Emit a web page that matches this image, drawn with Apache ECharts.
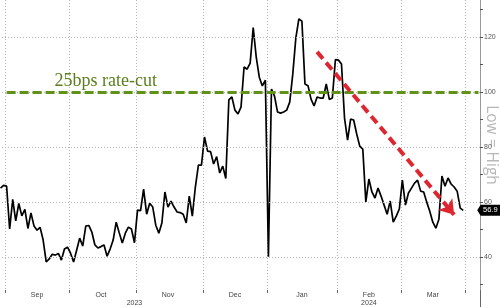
<!DOCTYPE html>
<html><head><meta charset="utf-8">
<script src="https://cdn.jsdelivr.net/npm/echarts@6/dist/echarts.min.js"></script>
<style>html,body{margin:0;padding:0;background:#fff}#c{width:500px;height:307px}</style>
</head><body><div id="c"></div>
<script>
// ---- data ----
const startDate = '2023-08-30';
const endDate = '2024-04-05';
const values = [
65.0,66.0,65.7,50.1,60.9,53.1,59.4,54.9,57.3,50.3,
56.0,51.2,49.7,50.7,46.1,38.1,39.2,40.9,40.6,41.2,
38.8,42.8,43.5,41.3,38.1,42.4,46.8,43.9,51.2,51.4,
49.0,44.3,43.2,43.7,44.3,40.2,42.8,46.1,52.6,48.7,
45.0,48.6,50.8,50.1,45.1,57.0,56.8,64.6,55.5,59.5,
58.1,51.5,48.6,52.3,63.6,58.1,60.3,58.1,56.3,56.1,
55.5,52.3,62.1,54.8,65.4,73.4,73.4,83.6,78.5,78.3,
73.8,76.5,70.5,73.0,68.5,97.1,98.2,93.4,92.0,94.5,
109.1,108.3,110.5,123.5,112.7,105.4,102.2,104.3,40.0,101.1,
98.5,92.7,92.3,92.7,93.4,96.3,106.5,119.6,126.6,125.8,
102.9,102.3,97.4,94.9,98.2,97.8,97.8,102.9,97.3,97.8,
111.8,111.6,110.2,90.5,82.5,90.1,89.8,84.7,80.3,79.2,
60.0,68.3,63.6,61.4,65.0,62.1,58.8,55.5,60.3,52.6,
54.8,57.4,67.9,58.8,63.2,65.0,66.8,67.9,63.9,63.6,
59.9,56.6,52.6,50.4,53.7,69.4,65.7,68.7,66.5,65.4,
63.9,57.7,56.9
];
const rateCutLevel = 100;
const rateCutLabel = '25bps rate-cut';
const trendStart = ['2024-01-23', 114.6];
const trendEnd = ['2024-03-26', 55.3];
const yLabelValues = [40, 60, 80, 100, 120];
const yTickValues = [30, 40, 50, 60, 70, 80, 90, 100, 110, 120, 130];
const yMin = 27.9, yMax = 133.5;
const monthNames = ['Jan','Feb','Mar','Apr','May','Jun','Jul','Aug','Sep','Oct','Nov','Dec'];
const yearLabelDates = ['2023-10-31', '2024-02-15'];
const yAxisName = 'Low = High';

// ---- categories (weekdays) ----
function buildWeekdays(a, b) {
  const out = []; let d = new Date(a + 'T00:00:00Z'); const e = new Date(b + 'T00:00:00Z');
  while (d <= e) { const w = d.getUTCDay(); if (w !== 0 && w !== 6) out.push(d.toISOString().slice(0, 10)); d = new Date(d.getTime() + 86400000); }
  return out;
}
const cats = buildWeekdays(startDate, endDate);
const monthOf = s => s.slice(0, 7);
const isMonthStart = i => i > 0 && monthOf(cats[i]) !== monthOf(cats[i - 1]);
const groups = [];
cats.forEach((c, i) => { const m = monthOf(c); if (!groups.length || groups[groups.length - 1].m !== m) groups.push({ m, a: i, b: i }); else groups[groups.length - 1].b = i; });
const monthMid = new Set(groups.slice(1, -1).map(g => Math.floor((g.a + g.b) / 2)));
const yearStart = new Set(cats.map((c, i) => (i > 0 && c.slice(0, 4) !== cats[i - 1].slice(0, 4)) ? i : -1).filter(i => i >= 0));
const yearLabelIdx = new Set(yearLabelDates.map(d => cats.indexOf(d)));
const lastIdx = values.length - 1;

const gridStyle = { type: [1, 2], color: '#b5b5b5', width: 1 };
const fontFam = 'Liberation Sans, Arial, sans-serif';

const chart = echarts.init(document.getElementById('c'), null, { renderer: 'canvas' });
chart.setOption({
  animation: false,
  backgroundColor: '#fff',
  grid: [
    { left: -1, right: 20, top: 0, bottom: 17, outerBoundsMode: 'none' },
    { left: -1, right: 20, top: 0, bottom: 17, outerBoundsMode: 'none' }
  ],
  xAxis: [
    {
      type: 'category', data: cats, boundaryGap: true, gridIndex: 0,
      axisLine: { show: false },
      axisTick: { show: true, interval: (i) => isMonthStart(i), length: 3, lineStyle: { color: '#666' } },
      axisLabel: { interval: (i) => monthMid.has(i), formatter: v => monthNames[parseInt(v.slice(5, 7), 10) - 1], fontSize: 7, color: '#444', margin: 2, fontFamily: fontFam },
      splitLine: { show: true, interval: (i) => isMonthStart(i), lineStyle: gridStyle }
    },
    {
      type: 'category', data: cats, boundaryGap: true, gridIndex: 1, position: 'bottom',
      axisLine: { show: false },
      axisTick: { show: true, interval: (i) => yearStart.has(i), length: 17, lineStyle: { color: '#666' } },
      axisLabel: { interval: (i) => yearLabelIdx.has(i), formatter: v => v.slice(0, 4), fontSize: 7, color: '#444', margin: 10, fontFamily: fontFam },
      splitLine: { show: false }
    }
  ],
  yAxis: [
    {
      type: 'value', position: 'right', min: yMin, max: yMax, gridIndex: 0,
      axisLine: { show: true, lineStyle: { color: '#999', width: 1 } },
      axisTick: { show: true, customValues: yTickValues, length: 3, lineStyle: { color: '#555' } },
      axisLabel: { customValues: yLabelValues, fontSize: 7, color: '#555', margin: 4, fontFamily: fontFam },
      splitLine: { show: false },
      name: yAxisName, nameLocation: 'middle', nameRotate: -90, nameGap: 3, nameMoveOverlap: false,
      nameTextStyle: { color: '#b8b8b8', fontSize: 15.5, fontFamily: 'Open Sans, sans-serif' }
    },
    { type: 'value', gridIndex: 1, show: false, min: yMin, max: yMax }
  ],
  series: [
    {
      type: 'line', xAxisIndex: 0, yAxisIndex: 0, data: [], silent: true, z: 1,
      markLine: {
        silent: true, symbol: 'none', animation: false,
        label: { show: false },
        lineStyle: gridStyle,
        data: yLabelValues.map(v => ({ yAxis: v }))
      }
    },
    {
      type: 'line', xAxisIndex: 0, yAxisIndex: 0, data: values, showSymbol: false, symbol: 'none',
      lineStyle: { color: '#000', width: 1.7 }, z: 3,
      markPoint: {
        silent: true, animation: false,
        symbol: 'path://M0,5 L4,0 L28,0 L28,10 L4,10 Z', symbolSize: [24, 11], symbolKeepAspect: false,
        symbolOffset: [26, 0],
        itemStyle: { color: '#000' },
        label: { show: true, color: '#fff', fontSize: 7.5, fontFamily: fontFam, formatter: () => values[lastIdx].toFixed(1), offset: [1, 0] },
        data: [{ coord: [cats[lastIdx], values[lastIdx]], value: values[lastIdx] }]
      }
    },
    {
      type: 'line', xAxisIndex: 0, yAxisIndex: 0, data: [], silent: true, z: 5,
      markLine: {
        silent: true, animation: false, symbol: 'none',
        data: [
          [
            { coord: [cats[2], rateCutLevel], symbol: 'none',
              lineStyle: { color: '#5f9216', width: 3, type: [9, 4] },
              label: { show: true, formatter: rateCutLabel, position: 'insideStartTop', distance: [48, 2], color: '#5b7d1d', fontSize: 18, fontFamily: 'Liberation Serif, serif' } },
            { coord: [cats[cats.length - 1], rateCutLevel], symbol: 'none' }
          ],
          [
            { coord: trendStart, symbol: 'none',
              lineStyle: { color: '#dd2630', width: 4, type: [9, 5] },
              label: { show: false } },
            { coord: trendEnd, symbol: 'arrow', symbolSize: 14 }
          ]
        ]
      }
    }
  ]
});
</script>
</body></html>
